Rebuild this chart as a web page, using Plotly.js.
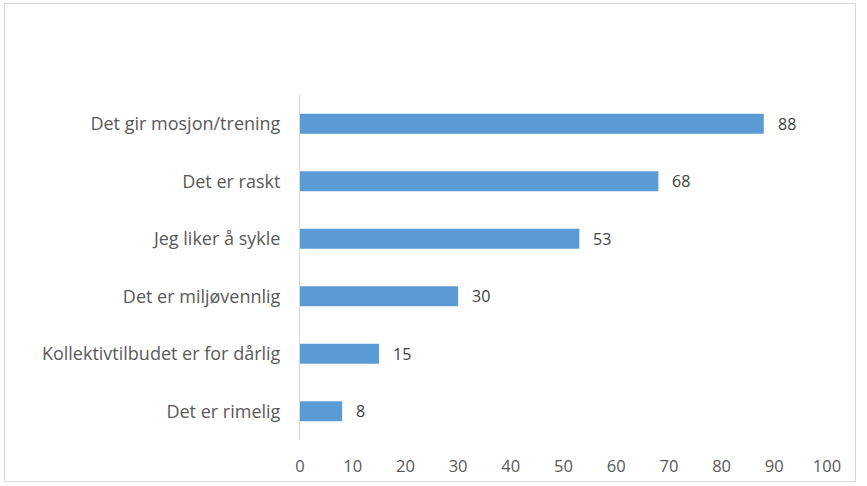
<!DOCTYPE html>
<html>
<head>
<meta charset="utf-8">
<script src="https://cdn.plot.ly/plotly-3.0.1.min.js"></script>
<style>
  html, body { margin: 0; padding: 0; background: #fff; }
  #wrap { position: relative; width: 867px; height: 486px; }
  #chart { width: 867px; height: 486px; }
  #frame { position: absolute; left: 4px; top: 3px; width: 850px; height: 477px; border: 1px solid #d9d9d9; pointer-events: none; }
</style>
</head>
<body>
<div id="wrap">
  <div id="chart"></div>
  <div id="frame"></div>
</div>
<script>
const categories = [
  "Det gir mosjon/trening",
  "Det er raskt",
  "Jeg liker å sykle",
  "Det er miljøvennlig",
  "Kollektivtilbudet er for dårlig",
  "Det er rimelig"
];
const values = [88, 68, 53, 30, 15, 8];
const xTicks = [0, 10, 20, 30, 40, 50, 60, 70, 80, 90, 100];

const fontFam = "'Open Sans', sans-serif";
const txtColor = "#595959";

const trace = {
  type: "bar",
  orientation: "h",
  y: categories,
  x: values,
  marker: { color: "#5B9BD5" },
  hoverinfo: "x+y"
};

const annotations = values.map((v, i) => ({
  x: v, y: categories[i], xref: "x", yref: "y",
  text: String(v), showarrow: false,
  xanchor: "left", xshift: 12,
  font: { family: fontFam, size: 16, color: "#404040" }
}));

const layout = {
  width: 867, height: 486,
  margin: { l: 300, r: 40, t: 95, b: 46 },
  paper_bgcolor: "#fff", plot_bgcolor: "#fff",
  showlegend: false,
  bargap: 0.65,
  font: { family: fontFam, size: 16.5, color: txtColor },
  xaxis: {
    range: [0, 100], tickvals: xTicks, ticktext: xTicks.map(String),
    showgrid: false, zeroline: false, showline: false, ticks: "",
    tickfont: { family: fontFam, size: 16.5, color: txtColor },
    ticklabelstandoff: 14, fixedrange: true
  },
  yaxis: {
    autorange: "reversed", showgrid: false, zeroline: false,
    showline: true, linecolor: "#d9d9d9", linewidth: 1, ticks: "",
    tickfont: { family: fontFam, size: 18, color: txtColor },
    ticklabelstandoff: 15, fixedrange: true
  },
  annotations: annotations
};

Plotly.newPlot("chart", [trace], layout, { displayModeBar: false, staticPlot: true });
</script>
</body>
</html>
